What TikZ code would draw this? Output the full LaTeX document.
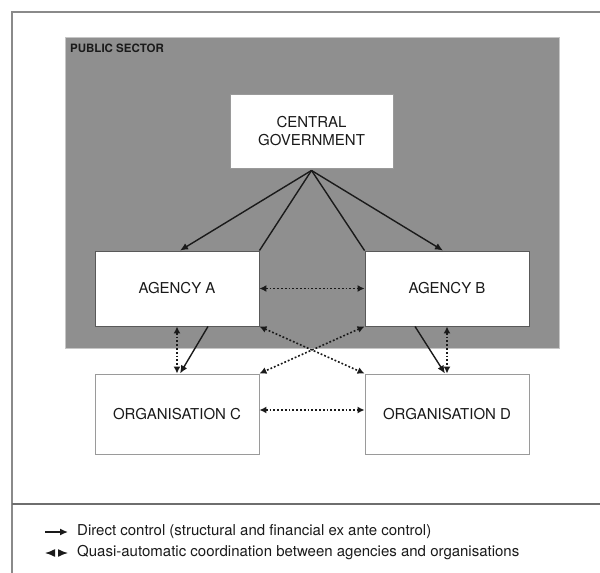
\documentclass[tikz,border=0pt]{standalone}
\usepackage{fontspec}
\setmainfont{TeX Gyre Heros}
\usetikzlibrary{arrows.meta,calc}
\definecolor{sectorgray}{HTML}{8F8F8F}
\definecolor{framegray}{HTML}{8A8A8A}
\definecolor{rulegray}{HTML}{6E6E6E}
\definecolor{edgegray}{HTML}{9A9A9A}
\definecolor{ink}{HTML}{1A1A1A}
\begin{document}
\begin{tikzpicture}[x=1pt,y=-1pt,
  box/.style={draw=edgegray, line width=0.9pt, fill=white, inner sep=0pt,
    text=ink, font=\fontsize{15}{18}\selectfont, align=center},
  ctrl/.style={draw=ink, line width=1.4pt, -{Latex[length=8pt,width=7pt]}},
  plain/.style={draw=ink, line width=1.4pt},
  coord/.style={draw=ink, line width=1.6pt, dash pattern=on 1.8pt off 2pt,
    {Latex[length=7pt,width=7pt]}-{Latex[length=7pt,width=7pt]}},
  legendtext/.style={anchor=west, inner sep=0pt, text=ink,
    font=\fontsize{15}{18}\selectfont}
]
\useasboundingbox (0,0) rectangle (600,573);

% outer frame and legend rule
\draw[framegray, line width=1.2pt] (600,12) -- (12,12) -- (12,573);
\draw[rulegray, line width=1.6pt] (12,504) -- (600,504);

% public sector area
\node[fill=sectorgray, draw=gray!45, line width=0.6pt, minimum width=494pt,
  minimum height=311pt, inner sep=0pt, anchor=north west] (sector) at (65,37) {};
\node[anchor=base west, inner sep=0pt, text=ink,
  font=\fontsize{11.5}{13}\selectfont\bfseries] (sectorlabel) at (70,52) {PUBLIC SECTOR};

% boxes
\node[box, minimum width=163pt, minimum height=74pt] (cg) at (311.5,131)
  {CENTRAL\\GOVERNMENT};
\node[box, draw=gray!70!black, minimum width=164pt, minimum height=75pt] (A) at (177,288.5) {AGENCY A};
\node[box, draw=gray!70!black, minimum width=164pt, minimum height=75pt] (B) at (447,288.5) {AGENCY B};
\node[box, minimum width=164pt, minimum height=80pt] (C) at (177,414) {ORGANISATION C};
\node[box, minimum width=164pt, minimum height=80pt] (D) at (447,414) {ORGANISATION D};

\coordinate (apex) at ([yshift=-2pt]cg.south);

% direct control
\draw[ctrl] (apex) -- ($(A.north)+(3,0)$);
\draw[plain] (apex) -- (A.north east);
\draw[plain] (apex) -- (B.north west);
\draw[ctrl] (apex) -- ($(B.north)+(-4,0)$);
\draw[ctrl] ($(A.south)+(31,0)$) -- ($(C.north)+(3,0)$);
\draw[ctrl] ($(B.south)+(-32,0)$) -- ($(D.north)+(-2,0)$);

% coordination
\draw[coord] (A.south) -- (C.north);
\draw[coord] (B.south) -- (D.north);
\draw[coord] (A.east) -- (B.west);
\draw[coord] (A.south east) -- (D.north west);
\draw[coord] (B.south west) -- (C.north east);
\draw[coord] ($(C.east)+(0,-4)$) -- ($(D.west)+(0,-4)$);

% legend
\coordinate (l1a) at (45,532);
\coordinate (l1b) at (68,532);
\draw[ctrl] (l1a) -- (l1b);
\node[legendtext] (l1) at (77,532) {Direct control (structural and financial ex ante control)};
\coordinate (l2a) at (45,553);
\coordinate (l2b) at (68,553);
\draw[draw=ink, line width=1.4pt, dash pattern=on 0pt off 30pt,
  {Latex[length=10pt,width=8pt]}-{Latex[length=10pt,width=8pt]}] (l2a) -- (l2b);
\node[legendtext] (l2) at (77,553) {Quasi-automatic coordination between agencies and organisations};
\end{tikzpicture}
\end{document}
